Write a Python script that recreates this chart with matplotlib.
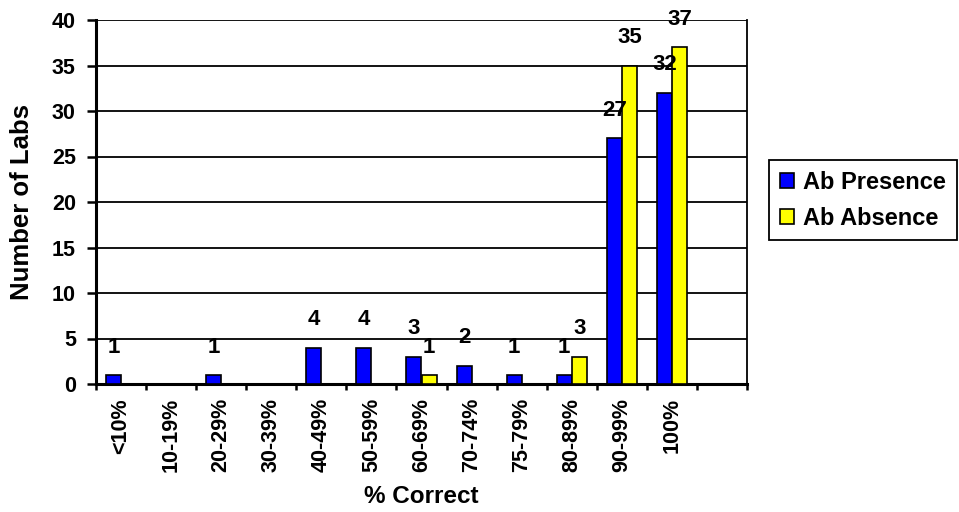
import matplotlib
matplotlib.use("Agg")
import matplotlib.pyplot as plt
from matplotlib.patches import Patch
import numpy as np

categories = ["<10%", "10-19%", "20-29%", "30-39%", "40-49%", "50-59%",
              "60-69%", "70-74%", "75-79%", "80-89%", "90-99%", "100%"]
ab_presence = [1, 0, 1, 0, 4, 4, 3, 2, 1, 1, 27, 32]
ab_absence = [0, 0, 0, 0, 0, 0, 1, 0, 0, 3, 35, 37]
y_ticks = [0, 5, 10, 15, 20, 25, 30, 35, 40]

plt.rcParams["font.family"] = ["Liberation Sans", "DejaVu Sans"]
plt.rcParams["font.weight"] = "bold"

fig = plt.figure(figsize=(9.59, 5.12), dpi=100)
ax = fig.add_axes([96 / 959, 1 - 384 / 512, (747 - 96) / 959, (384 - 20) / 512])

n_slots = len(categories) + 1
x = np.arange(len(categories))
w = 0.3
blue = "#0000FF"
yellow = "#FFFF00"

b1 = ax.bar(x - w / 2, ab_presence, width=w, color=blue, edgecolor="black", linewidth=1.2, zorder=3)
b2 = ax.bar(x + w / 2, ab_absence, width=w, color=yellow, edgecolor="black", linewidth=1.2, zorder=3)

for bars, vals in ((b1, ab_presence), (b2, ab_absence)):
    for rect, v in zip(bars, vals):
        if v == 0:
            continue
        ax.annotate(str(v), (rect.get_x() + rect.get_width() / 2, v),
                    xytext=(0, 12.5), textcoords="offset points",
                    ha="center", va="bottom", fontsize=16, fontweight="bold", zorder=4)

ax.set_xlim(-0.5, n_slots - 0.5)
ax.set_ylim(0, 40)
ax.set_yticks(y_ticks)
ax.yaxis.grid(True, color="black", linewidth=1.3, zorder=0)
ax.set_axisbelow(True)

ax.set_xticks(np.arange(-0.5, n_slots, 1.0))
ax.set_xticklabels([])
ax.set_xticks(x, minor=True)
ax.set_xticklabels(categories, minor=True, rotation=90, fontsize=15.5, fontweight="bold")
ax.tick_params(axis="x", which="major", direction="out", length=4.5, width=1.8, color="black")
ax.tick_params(axis="x", which="minor", length=0, pad=10)
ax.tick_params(axis="y", direction="out", length=6.5, width=1.8, pad=8, labelsize=15.5)
for lab in ax.get_yticklabels():
    lab.set_fontweight("bold")

for side in ("left", "bottom"):
    ax.spines[side].set_linewidth(2.2)
ax.spines["right"].set_linewidth(1.3)
ax.spines["top"].set_visible(False)

ax.set_ylabel("Number of Labs", fontsize=18.5, fontweight="bold", va="center")
ax.yaxis.set_label_coords(-0.1137, 0.5)
ax.set_xlabel("% Correct", fontsize=17.5, fontweight="bold", va="center")
ax.xaxis.set_label_coords(0.5, -0.31)

handles = [Patch(facecolor=blue, edgecolor="black", linewidth=1.2, label="Ab Presence"),
           Patch(facecolor=yellow, edgecolor="black", linewidth=1.2, label="Ab Absence")]
leg = fig.legend(handles=handles, loc="upper left",
                 bbox_to_anchor=(769 / 959, 1 - 160 / 512),
                 fancybox=False, framealpha=1, edgecolor="black",
                 prop={"family": "Liberation Sans", "weight": "bold", "size": 17},
                 handlelength=0.6, handleheight=0.6, handletextpad=0.4,
                 borderpad=0.45, labelspacing=0.55, borderaxespad=0)
leg.get_frame().set_linewidth(1.3)

fig.savefig("out.png", dpi=100)
